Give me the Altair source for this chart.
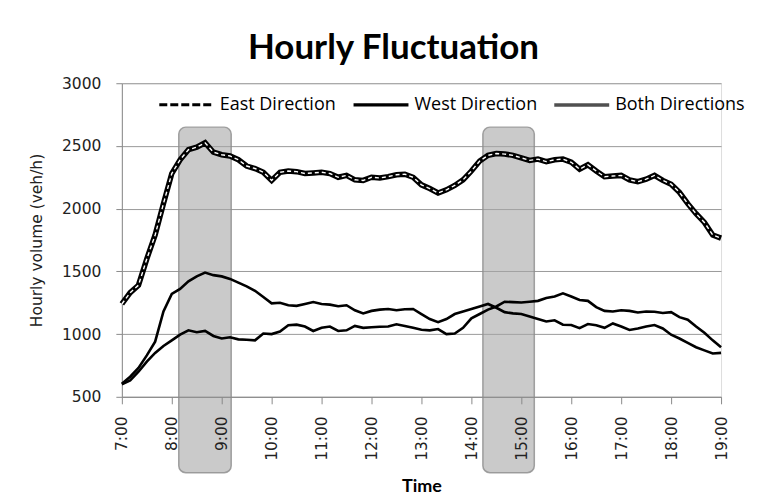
import altair as alt
import pandas as pd

# time axis: 7:00 to 19:00 every 10 minutes (hours as decimals)
hours = [7 + i / 6 for i in range(73)]

both_dirs = [1240, 1330, 1390, 1600, 1790, 2040, 2280, 2390, 2470, 2490, 2525, 2450,
             2430, 2420, 2390, 2340, 2320, 2290, 2225, 2290, 2300, 2295, 2280, 2285,
             2290, 2280, 2250, 2265, 2230, 2225, 2250, 2245, 2255, 2270, 2275, 2250,
             2190, 2160, 2125, 2150, 2185, 2230, 2300, 2380, 2425, 2440, 2435, 2425,
             2405, 2385, 2395, 2375, 2390, 2395, 2370, 2315, 2350, 2300, 2255, 2260,
             2265, 2230, 2215, 2235, 2265, 2225, 2195, 2130, 2040, 1960, 1890, 1790,
             1765]

east_dir = [605, 660, 730, 830, 940, 1180, 1320, 1360, 1420, 1460, 1490, 1470,
            1460, 1440, 1410, 1380, 1345, 1295, 1245, 1250, 1230, 1225, 1240, 1255,
            1240, 1235, 1222, 1230, 1190, 1165, 1185, 1195, 1200, 1190, 1198, 1200,
            1160, 1120, 1095, 1120, 1160, 1180, 1200, 1220, 1240, 1210, 1175, 1165,
            1160, 1140, 1120, 1100, 1110, 1075, 1073, 1047, 1080, 1070, 1050, 1085,
            1060, 1033, 1045, 1060, 1072, 1045, 995, 965, 930, 895, 870, 845,
            850]

west_dir = [600, 630, 700, 780, 850, 905, 950, 995, 1030, 1015, 1025, 985,
            965, 975, 958, 955, 950, 1005, 1000, 1020, 1070, 1075, 1060, 1025,
            1050, 1060, 1025, 1030, 1065, 1050, 1055, 1058, 1060, 1078, 1065, 1050,
            1035, 1030, 1040, 1000, 1005, 1050, 1125, 1160, 1195, 1220, 1258, 1255,
            1252, 1258, 1265, 1288, 1300, 1325, 1300, 1272, 1265, 1215, 1185, 1180,
            1190, 1185, 1172, 1180, 1178, 1168, 1175, 1135, 1115, 1060, 1010, 950,
            895]

tick_hours = list(range(7, 20))
y_ticks = [500, 1000, 1500, 2000, 2500, 3000]

legend_names = ["East Direction", "West Direction", "Both Directions"]

# highlighted peak periods (shaded boxes)
box_start = [8.14, 14.23]
box_end = [9.19, 15.26]
box_top = [2650, 2650]
box_bottom = [-105, -105]

df_both = pd.DataFrame({"t": hours, "v": both_dirs})
df_east = pd.DataFrame({"t": hours, "v": east_dir})
df_west = pd.DataFrame({"t": hours, "v": west_dir})
df_box = pd.DataFrame({"t": box_start, "t2": box_end, "v": box_top, "v2": box_bottom})
df_leg = pd.DataFrame({"t": [hours[0]] * 3, "v": [both_dirs[0], east_dir[0], west_dir[0]],
                       "series": legend_names})

x_axis = alt.Axis(values=tick_hours, labelExpr="datum.value + ':00'", labelAngle=-90,
                  grid=False, title="Time", labelFont="DejaVu Sans", labelFontSize=15.5,
                  labelColor="#222", labelPadding=12, tickSize=7, tickColor="#8a8a8a",
                  domainColor="#8a8a8a", titleFont="Lato", titleFontSize=18,
                  titleFontWeight="bold", titleColor="black", titlePadding=17, zindex=1)
y_axis = alt.Axis(values=y_ticks, format="d", title="Hourly volume (veh/h)", grid=True,
                  gridColor="#9a9a9a", labelFont="DejaVu Sans", labelFontSize=15.5,
                  labelColor="#222", labelPadding=15, tickSize=6, tickColor="#8a8a8a",
                  domainColor="#8a8a8a", titleFont="DejaVu Sans", titleFontSize=15.5,
                  titleFontWeight="normal", titleColor="#222", titlePadding=17)

x_scale = alt.Scale(domain=[7, 19], nice=False, zero=False)
y_scale = alt.Scale(domain=[500, 3000], nice=False, zero=False)


def X():
    return alt.X("t:Q", scale=x_scale, axis=x_axis)


def Y():
    return alt.Y("v:Q", scale=y_scale, axis=y_axis)


boxes = alt.Chart(df_box).mark_rect(
    cornerRadius=7, fill="#a6a6a6", fillOpacity=0.6, stroke="#8c8c8c",
    strokeWidth=1.5, strokeOpacity=0.8
).encode(x=X(), x2="t2:Q", y=Y(), y2="v2:Q")

top_outer = alt.Chart(df_both).mark_line(color="black", strokeWidth=5.5).encode(x=X(), y=Y())
top_inner = alt.Chart(df_both).mark_line(color="white", strokeWidth=1.4,
                                         strokeDash=[4, 3]).encode(x=X(), y=Y())
east_line = alt.Chart(df_east).mark_line(color="black", strokeWidth=2.6).encode(x=X(), y=Y())
west_line = alt.Chart(df_west).mark_line(color="black", strokeWidth=2.6).encode(x=X(), y=Y())

legend = alt.Legend(orient="none", legendX=36, legendY=-8, direction="horizontal",
                    title=None, symbolType="stroke", symbolSize=3025,
                    labelFont="Open Sans", labelFontSize=18, labelColor="black",
                    labelOffset=4, columnPadding=10, padding=0, symbolStrokeColor="black")

legend_layer = alt.Chart(df_leg).mark_line(strokeCap="butt").encode(
    x=X(), y=Y(),
    color=alt.Color("series:N", scale=alt.Scale(domain=legend_names,
                                                range=["black", "black", "#505050"]),
                    legend=legend),
    strokeDash=alt.StrokeDash("series:N", scale=alt.Scale(domain=legend_names,
                                                          range=[[8, 3], [1, 0], [1, 0]]),
                              legend=legend),
    strokeWidth=alt.StrokeWidth("series:N", scale=alt.Scale(domain=legend_names,
                                                            range=[3, 3.5, 1.6]),
                                legend=legend),
)

chart = alt.layer(boxes, top_outer, top_inner, east_line, west_line, legend_layer).properties(
    width=600, height=314,
    title=alt.TitleParams("Hourly Fluctuation", font="Lato", fontSize=35, fontWeight="bold",
                          anchor="middle", dx=-28, dy=33, offset=14, baseline="alphabetic",
                          color="black"),
    autosize=alt.AutoSizeParams(type="none"),
    padding={"left": 114, "top": 75, "right": 40, "bottom": 98},
).configure_view(stroke=None).configure(background="white")

chart.save("out.html", embed_options={"renderer": "svg", "actions": False})
